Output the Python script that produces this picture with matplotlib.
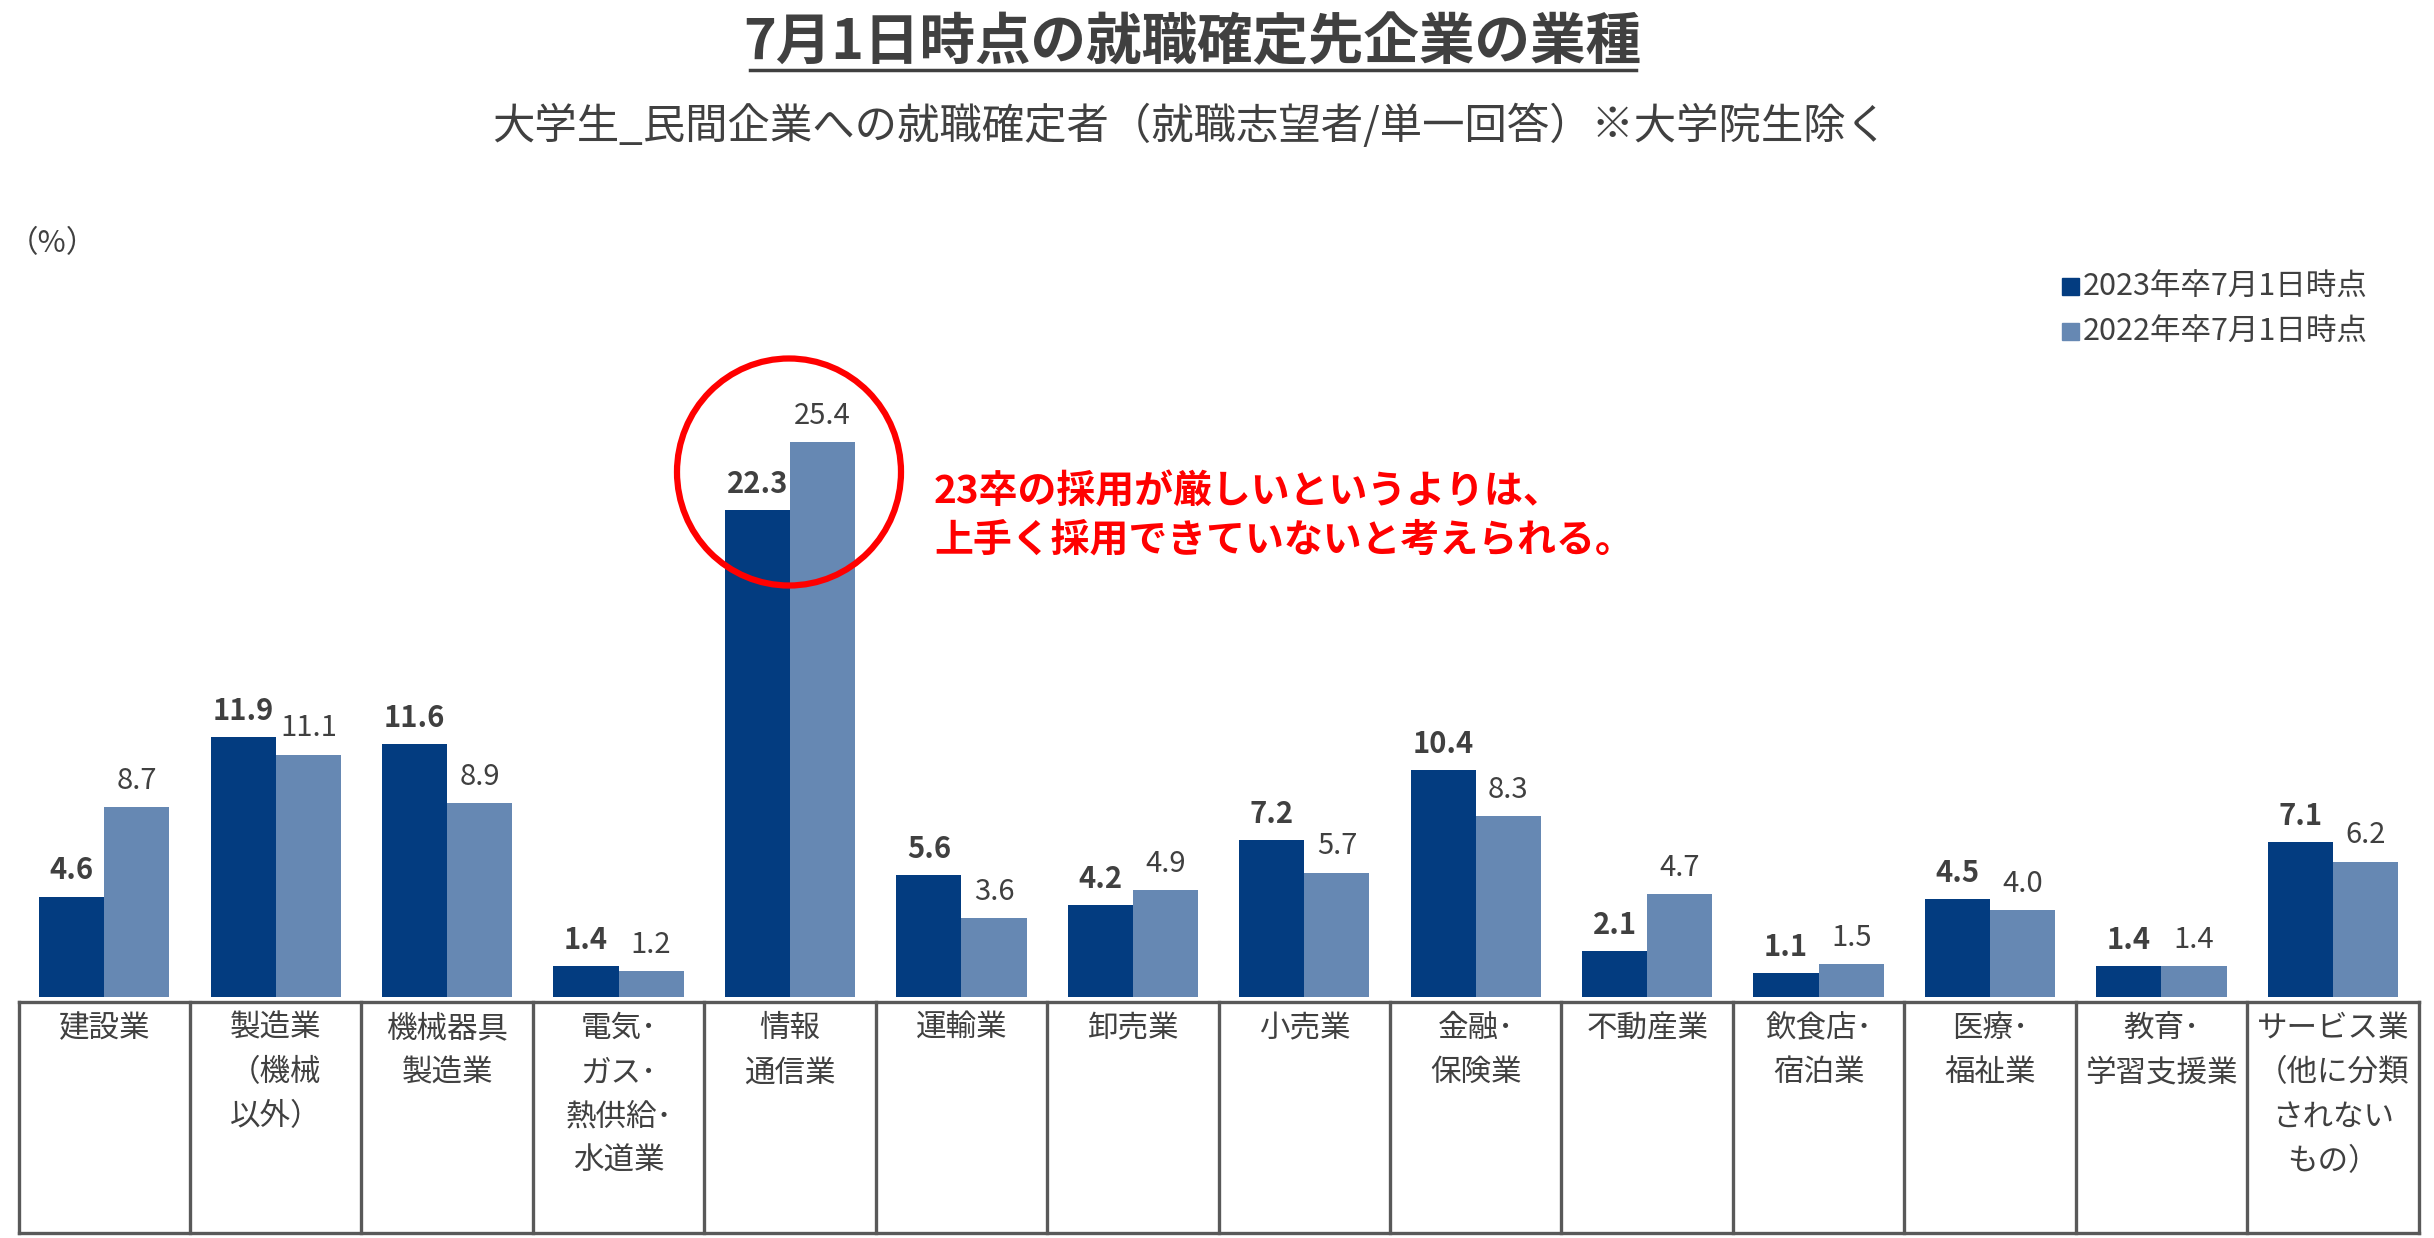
import matplotlib
matplotlib.use("Agg")
import matplotlib.pyplot as plt
from matplotlib.patches import Ellipse, Rectangle
from matplotlib.lines import Line2D
import matplotlib.transforms as mtransforms
import numpy as np

plt.rcParams['font.family'] = ['Noto Sans CJK JP', 'DejaVu Sans']

categories = ["建設業", "製造業\n（機械\n以外）", "機械器具\n製造業", "電気･\nガス･\n熱供給･\n水道業",
              "情報\n通信業", "運輸業", "卸売業", "小売業", "金融･\n保険業", "不動産業",
              "飲食店･\n宿泊業", "医療･\n福祉業", "教育･\n学習支援業", "サービス業\n（他に分類\nされない\nもの）"]
v2023 = [4.6, 11.9, 11.6, 1.4, 22.3, 5.6, 4.2, 7.2, 10.4, 2.1, 1.1, 4.5, 1.4, 7.1]
v2022 = [8.7, 11.1, 8.9, 1.2, 25.4, 3.6, 4.9, 5.7, 8.3, 4.7, 1.5, 4.0, 1.4, 6.2]
series_names = ["2023年卒7月1日時点", "2022年卒7月1日時点"]

W, H = 2434, 1238
fig = plt.figure(figsize=(W / 100, H / 100), dpi=100)

c_dark = "#033c80"
c_light = "#6688b3"
txt = "#404040"
grid_c = "#595959"

base_y = 997
top_y = 150
scale = 21.84
ax = fig.add_axes([18.6 / W, 1 - base_y / H, 2400 / W, (base_y - top_y) / H])
ax.set_xlim(-0.5, 13.5)
ax.set_ylim(0, (base_y - top_y) / scale)
ax.axis('off')

x = np.arange(len(categories))
bw = 0.38
ax.bar(x - bw / 2, v2023, bw, color=c_dark)
ax.bar(x + bw / 2, v2022, bw, color=c_light)
for xi, v in zip(x, v2023):
    ax.annotate(f"{v:.1f}", (xi - bw / 2, v), xytext=(0, 8), textcoords='offset points',
                ha='center', va='bottom', fontsize=21, fontweight='bold', color=txt)
for xi, v in zip(x, v2022):
    ax.annotate(f"{v:.1f}", (xi + bw / 2, v), xytext=(0, 8), textcoords='offset points',
                ha='center', va='bottom', fontsize=21, color=txt)

# table below
tr = mtransforms.blended_transform_factory(ax.transData, fig.transFigure)
t_top = 1 - 1002 / H
t_bot = 1 - 1233 / H
lw = 2.4
for b in np.arange(-0.5, 14.0, 1.0):
    fig.add_artist(Line2D([b, b], [t_bot, t_top], transform=tr, color=grid_c, lw=lw, clip_on=False))
fig.add_artist(Line2D([-0.5, 13.5], [t_top, t_top], transform=tr, color=grid_c, lw=lw, clip_on=False))
fig.add_artist(Line2D([-0.5, 13.5], [t_bot, t_bot], transform=tr, color=grid_c, lw=lw, clip_on=False))
for xi, c in zip(x, categories):
    fig.text(xi, 1 - 1013 / H, c, transform=tr, ha='center', va='top', fontsize=22,
             color=txt, linespacing=1.55, multialignment='center')

# titles
fig.text(768 * 1.5523 / W, 1 - 43 / H, "7月1日時点の就職確定先企業の業種", ha='center', va='center',
         fontsize=40, fontweight='bold', color=txt)
fig.add_artist(Line2D([750 / W, 1636 / W], [1 - 70 / H, 1 - 70 / H], color=txt, lw=2.5))
fig.text(1190 / W, 1 - 127 / H, "大学生_民間企業への就職確定者（就職志望者/単一回答）※大学院生除く",
         ha='center', va='center', fontsize=30.5, color=txt)
fig.text(8 / W, 1 - 244 / H, "（%）", ha='left', va='center', fontsize=22, color=txt)

# legend
for i, (nm, col) in enumerate(zip(series_names, [c_dark, c_light])):
    yy = 1 - (287 + 45 * i) / H
    fig.add_artist(Rectangle((2062 / W, yy - 8 / H), 17 / W, 17 / H, transform=fig.transFigure,
                             color=col))
    fig.text(2083 / W, yy, nm, ha='left', va='center', fontsize=22, color=txt)

# annotation
fig.text(934 / W, 1 - 492 / H, "23卒の採用が厳しいというよりは、", ha='left', va='center',
         fontsize=28, fontweight='bold', color='#ff0000')
fig.text(934 / W, 1 - 540 / H, "上手く採用できていないと考えられる。", ha='left', va='center',
         fontsize=28, fontweight='bold', color='#ff0000')
fig.add_artist(Ellipse((789 / W, 1 - 472 / H), 224 / W, 227 / H, transform=fig.transFigure,
                       fill=False, edgecolor='#ff0000', lw=4.5))

fig.savefig("out.png", dpi=100, facecolor='white')
